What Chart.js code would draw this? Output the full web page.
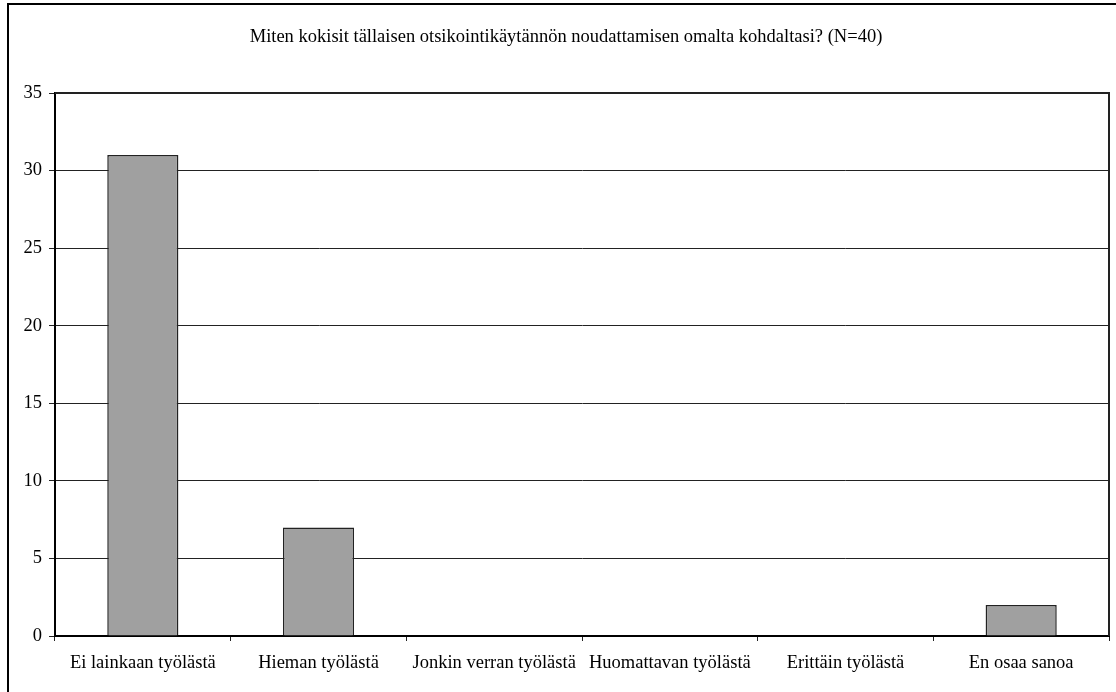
<!DOCTYPE html>
<html>
<head>
<meta charset="utf-8">
<script src="https://cdn.jsdelivr.net/npm/chart.js@4"></script>
<style>
  html, body { margin: 0; padding: 0; background: #fff; }
  #wrap { position: relative; width: 1116px; height: 692px; }
</style>
</head>
<body>
<div id="wrap"><canvas id="c" width="1116" height="692"></canvas></div>
<script>
const titleText = 'Miten kokisit tällaisen otsikointikäytännön noudattamisen omalta kohdaltasi? (N=40)';
const categories = ['Ei lainkaan työlästä', 'Hieman työlästä', 'Jonkin verran työlästä', 'Huomattavan työlästä', 'Erittäin työlästä', 'En osaa sanoa'];
const counts = [31, 7, 0, 0, 0, 2];
const yTicks = [0, 5, 10, 15, 20, 25, 30, 35];

const FONT = '"Liberation Serif", "Times New Roman", serif';
const FONT_SIZE = 18.5;

// Outer frame, plot frame and title
const decor = {
  id: 'decor',
  beforeDraw(chart) {
    const ctx = chart.ctx;
    ctx.save();
    ctx.fillStyle = '#fff';
    ctx.fillRect(0, 0, chart.width, chart.height);
    ctx.strokeStyle = '#000';
    ctx.lineWidth = 2;
    ctx.strokeRect(8, 4, chart.width + 20, chart.height + 20);
    ctx.restore();
  },
  afterDraw(chart) {
    const ctx = chart.ctx;
    const a = chart.chartArea;
    ctx.save();
    ctx.strokeStyle = '#222';
    ctx.lineWidth = 2;
    ctx.beginPath();
    ctx.moveTo(a.left, a.top);
    ctx.lineTo(a.right, a.top);
    ctx.lineTo(a.right, a.bottom);
    ctx.stroke();
    ctx.fillStyle = '#000';
    ctx.font = FONT_SIZE + 'px ' + FONT;
    ctx.textAlign = 'center';
    ctx.textBaseline = 'middle';
    ctx.fillText(titleText, 566, 37);
    ctx.restore();
  }
};

new Chart(document.getElementById('c'), {
  type: 'bar',
  data: {
    labels: categories,
    datasets: [{
      data: counts,
      backgroundColor: '#a0a0a0',
      borderColor: '#222',
      borderWidth: 1.5,
      categoryPercentage: 1,
      barPercentage: 0.405
    }]
  },
  options: {
    responsive: false,
    animation: false,
    layout: { padding: { left: 0, top: 93, right: 7, bottom: 0 } },
    plugins: { legend: { display: false }, tooltip: { enabled: false }, title: { display: false } },
    scales: {
      x: {
        offset: true,
        grid: { offset: true, drawOnChartArea: false, drawTicks: true, tickLength: 5, color: '#222', lineWidth: 1 },
        border: { display: true, color: '#000', width: 2 },
        ticks: { color: '#000', font: { family: FONT, size: FONT_SIZE }, padding: 11, maxRotation: 0, autoSkip: false },
        afterFit(scale) { scale.height = 56; }
      },
      y: {
        min: 0,
        max: 35,
        afterBuildTicks(scale) { scale.ticks = yTicks.map(v => ({ value: v })); },
        grid: { color: '#222', lineWidth: 1, drawTicks: true, tickLength: 6 },
        border: { display: true, color: '#000', width: 2 },
        ticks: { color: '#000', font: { family: FONT, size: FONT_SIZE }, padding: 7 },
        afterFit(scale) { scale.width = 55; }
      }
    }
  },
  plugins: [decor]
});
</script>
</body>
</html>
